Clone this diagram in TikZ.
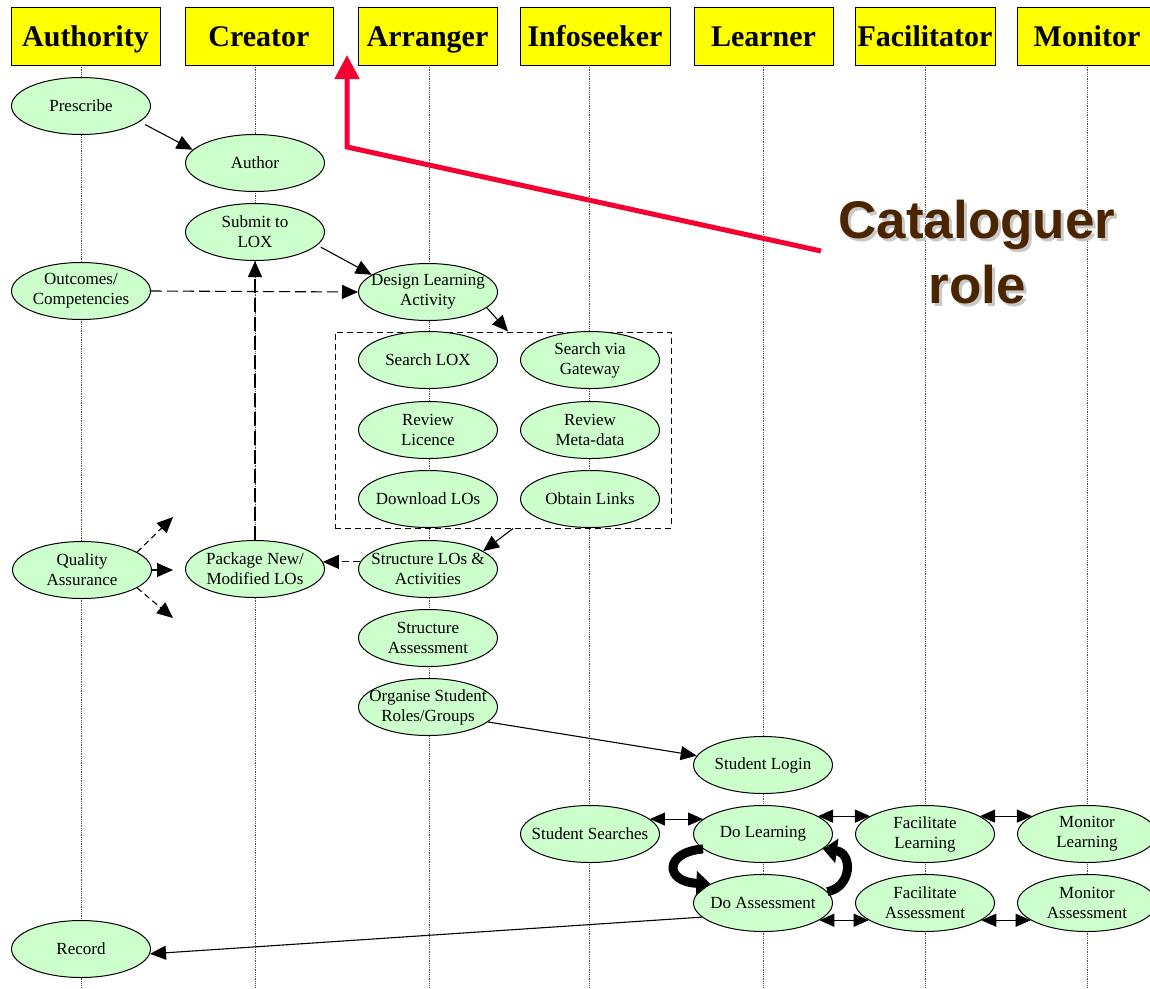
\documentclass[tikz,border=0pt]{standalone}
\usepackage{fontspec}
\setmainfont{Liberation Serif}
\newfontfamily\catfont{Liberation Sans}
\usetikzlibrary{shapes.geometric,arrows.meta,calc}
\definecolor{lgreen}{RGB}{204,255,204}
\definecolor{hyellow}{RGB}{255,255,0}
\definecolor{redarrow}{RGB}{245,0,50}
\definecolor{catbrown}{RGB}{74,37,0}
\definecolor{catshadow}{RGB}{200,200,200}
\begin{document}
\begin{tikzpicture}[x=1pt,y=-1pt,
 lane/.style={draw=black, line width=1pt, fill=hyellow, minimum height=58pt, inner sep=0pt,
   font=\fontsize{30}{32}\selectfont\bfseries, text height=20pt, text depth=0pt},
 act/.style={ellipse, draw=black, line width=1pt, fill=lgreen, minimum width=139pt, minimum height=57pt,
   inner xsep=-45pt, inner ysep=-16pt, align=center, font=\fontsize{17}{20}\selectfont},
 life/.style={densely dotted, line width=0.8pt, black!70},
 arr/.style={line width=1.1pt, -{Triangle[length=16pt,width=14pt]}},
 darr/.style={arr, dash pattern=on 9pt off 5pt},
 barr/.style={line width=1.1pt, {Triangle[length=15pt,width=13pt]}-{Triangle[length=15pt,width=13pt]}},
 bigcurve/.style={line width=9pt, -{Triangle[length=14pt,width=24pt]}},
 cattext/.style={font=\catfont\bfseries\fontsize{53}{60}\selectfont, anchor=base, inner sep=0pt},
]
\useasboundingbox (0,0) rectangle (1150,988);

% lifelines
\foreach \n/\x in {A/81,C/255,R/429,I/589,L/763,F/925,M/1087}{
  \coordinate (t\n) at (\x,65);
  \coordinate (b\n) at (\x,988);
  \draw[life] (t\n) -- (b\n);
}

% headers
\node[lane, minimum width=149pt] (hA) at (85.5,36) {Authority};
\node[lane, minimum width=148pt] (hC) at (259,36) {Creator};
\node[lane, minimum width=139pt] (hR) at (427.5,36) {Arranger};
\node[lane, minimum width=150pt] (hI) at (595,36) {Infoseeker};
\node[lane, minimum width=139pt] (hL) at (763.5,36) {Learner};
\node[lane, minimum width=140pt] (hF) at (925,36) {Facilitator};
\node[lane, minimum width=140pt] (hM) at (1087,36) {Monitor};

% group box
\node[draw, dash pattern=on 6pt off 4pt, line width=1pt, minimum width=336pt, minimum height=196pt, inner sep=0pt] (grp) at (503,430) {};

% activities
\node[act] (pre) at (81,106) {Prescribe};
\node[act] (aut) at (255,163) {Author};
\node[act] (sub) at (255,232) {Submit to\\LOX};
\node[act] (out) at (81,291) {Outcomes/\\Competencies};
\node[act] (dla) at (428,292) {Design Learning\\Activity};
\node[act] (slox) at (428,360) {Search LOX};
\node[act] (rl) at (428,430) {Review\\Licence};
\node[act] (dlo) at (428,499) {Download LOs};
\node[act] (sg) at (590,360) {Search via\\Gateway};
\node[act] (rm) at (590,430) {Review\\Meta-data};
\node[act] (ol) at (590,499) {Obtain Links};
\node[act] (qa) at (82,570) {Quality\\Assurance};
\node[act] (pkg) at (255,569) {Package New/\\Modified LOs};
\node[act] (slo) at (428,569) {Structure LOs \&\\Activities};
\node[act] (sa) at (428,638) {Structure\\Assessment};
\node[act] (org) at (428,707) {Organise Student\\Roles/Groups};
\node[act] (sl) at (763,765) {Student Login};
\node[act] (ss) at (590,834) {Student Searches};
\node[act] (dl) at (763,834) {Do Learning};
\node[act] (da) at (763,903) {Do Assessment};
\node[act] (fl) at (925,834) {Facilitate\\Learning};
\node[act] (fa) at (925,903) {Facilitate\\Assessment};
\node[act] (ml) at (1087,834) {Monitor\\Learning};
\node[act] (ma) at (1087,903) {Monitor\\Assessment};
\node[act] (rec) at (81,949) {Record};

% connectors
\draw[arr, shorten <=6pt] (pre.-15) -- (aut.168);
\draw[arr, shorten <=4pt] (sub.-12) -- (dla.163);
\draw[darr, dash pattern=on 11pt off 5pt] (out.east) -- (dla.west);
\draw[arr] (dla.-15) -- ($(grp.north west)!0.515!(grp.north east)$);
\draw[arr] ($(grp.south west)!0.53!(grp.south east)$) -- (slo.18);
\draw[darr, dash pattern=on 7pt off 4pt] (slo.174) -- (pkg.6);
\draw[darr, dash pattern=on 14pt off 5pt] (pkg.north) -- (sub.south);

\coordinate (q1) at (173,517);
\coordinate (q2) at (173,570);
\coordinate (q3) at (173,618);
\draw[darr, dash pattern=on 6pt off 4pt] (qa.18) -- (q1);
\draw[darr, dash pattern=on 6pt off 4pt] (qa.east) -- (q2);
\draw[darr, dash pattern=on 6pt off 4pt] (qa.-18) -- (q3);

\draw[arr] (org.-14) -- (sl.172);
\draw[barr] (ss.14) -- (dl.166);
\draw[barr] (dl.18) -- (fl.162);
\draw[barr] (fl.18) -- (ml.162);
\draw[barr] (da.-17) -- (fa.197);
\draw[barr] (fa.-17) -- (ma.197);
\draw[arr] (da.193) -- (rec.-4);

% curved loop arrows
\draw[bigcurve] (dl.194) .. controls (664,852) and (664,882) .. (da.160);
\draw[bigcurve] (da.10) .. controls (852,887) and (853,853) .. (dl.-14);

% red pointer
\coordinate (rs) at (821,251);
\coordinate (rc) at (347,147);
\coordinate (rt) at (347,55);
\draw[redarrow, line width=5pt, -{Triangle[length=24pt,width=24pt]}] (rs) -- (rc) -- (rt);

% Cataloguer role
\node[cattext, text=catshadow] (cat1s) at (980,241) {Cataloguer};
\node[cattext, text=catbrown] (cat1) at (977,238) {Cataloguer};
\node[cattext, text=catshadow] (cat2s) at (980,306) {role};
\node[cattext, text=catbrown] (cat2) at (977,303) {role};
\end{tikzpicture}
\end{document}
